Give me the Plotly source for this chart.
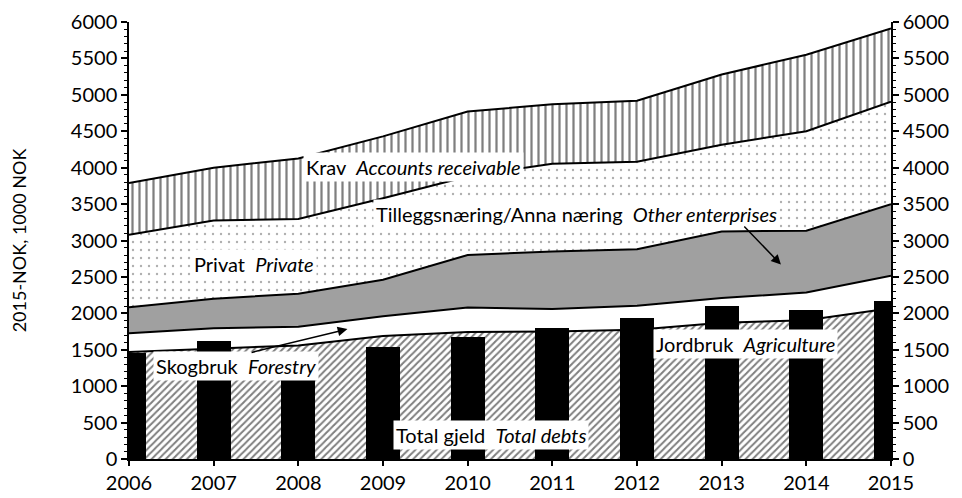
import plotly.graph_objects as go

# ---- data ----
years = [2006, 2007, 2008, 2009, 2010, 2011, 2012, 2013, 2014, 2015]
jordbruk = [1470, 1520, 1560, 1690, 1745, 1750, 1775, 1870, 1905, 2070]   # Agriculture
skogbruk = [255, 275, 255, 270, 335, 310, 330, 340, 380, 445]             # Forestry
tillegg = [360, 405, 455, 500, 720, 790, 775, 915, 850, 985]              # Other enterprises
privat = [995, 1075, 1025, 1120, 1080, 1205, 1200, 1190, 1365, 1405]      # Private
krav = [710, 725, 830, 850, 890, 815, 840, 965, 1050, 1005]               # Accounts receivable
total_gjeld = [1460, 1620, 1470, 1540, 1680, 1795, 1930, 2105, 2050, 2165]  # Total debts
y_ticks = [0, 500, 1000, 1500, 2000, 2500, 3000, 3500, 4000, 4500, 5000, 5500, 6000]

FONT = "Lato"
FS = 20
edge = dict(color="black", width=2)

fig = go.Figure()
fig.add_trace(go.Scatter(
    x=years, y=jordbruk, stackgroup="s", mode="lines", line=edge,
    fillcolor="white",
    fillpattern=dict(shape="/", fgcolor="black", bgcolor="white", size=5, solidity=0.4),
    name="Jordbruk"))
fig.add_trace(go.Scatter(
    x=years, y=skogbruk, stackgroup="s", mode="lines", line=edge,
    fillcolor="white", name="Skogbruk"))
fig.add_trace(go.Scatter(
    x=years, y=tillegg, stackgroup="s", mode="lines", line=edge,
    fillcolor="#a0a0a0", name="Tilleggsnæring"))
fig.add_trace(go.Scatter(
    x=years, y=privat, stackgroup="s", mode="lines", line=edge,
    fillcolor="white",
    fillpattern=dict(shape=".", fgcolor="#606060", bgcolor="white", size=8, solidity=0.07),
    name="Privat"))
fig.add_trace(go.Scatter(
    x=years, y=krav, stackgroup="s", mode="lines", line=edge,
    fillcolor="white",
    fillpattern=dict(shape="|", fgcolor="black", bgcolor="white", size=7, solidity=0.32),
    name="Krav"))
fig.add_trace(go.Bar(
    x=years, y=total_gjeld, yaxis="y2", width=0.4,
    marker=dict(color="black", line=dict(width=0)), name="Total gjeld"))

axis_common = dict(
    range=[0, 6000], tickvals=y_ticks, showgrid=False, zeroline=False,
    showline=True, linecolor="black", linewidth=1.5,
    ticks="outside", ticklen=6, tickwidth=1.5, tickcolor="black",
    minor=dict(dtick=100, ticks="outside", ticklen=3, tickcolor="black", tickwidth=1),
    tickfont=dict(family=FONT, size=FS, color="black"),
    ticklabeloverflow="allow",
)

lbl = dict(showarrow=False, bgcolor="white", borderpad=2,
           font=dict(family=FONT, size=FS, color="black"), xref="x", yref="y")
sp = "\u00a0 "

annotations = [
    dict(x=2009.36, y=4012, text="Krav" + sp + "<i>Accounts receivable</i>", **lbl),
    dict(x=2011.28, y=3360, text="Tilleggsnæring/Anna næring" + sp + "<i>Other enterprises</i>", **lbl),
    dict(x=2007.48, y=2680, text="Privat" + sp + "<i>Private</i>", **lbl),
    dict(x=2007.26, y=1282, text="Skogbruk" + sp + "<i>Forestry</i>", **lbl),
    dict(x=2010.28, y=330, text="Total gjeld" + sp + "<i>Total debts</i>", **lbl),
    dict(x=2013.28, y=1573, text="Jordbruk" + sp + "<i>Agriculture</i>", **lbl),
    dict(x=2008.58, y=1784, ax=2007.43, ay=1458, axref="x", ayref="y", xref="x", yref="y",
         text="", showarrow=True, arrowhead=2, arrowsize=1.3, arrowwidth=1.5, arrowcolor="black"),
    dict(x=2013.70, y=2670, ax=2013.25, ay=3213, axref="x", ayref="y", xref="x", yref="y",
         text="", showarrow=True, arrowhead=2, arrowsize=1.3, arrowwidth=1.5, arrowcolor="black"),
]

fig.update_layout(
    width=954, height=490,
    margin=dict(l=121, r=71, t=14, b=39, autoexpand=False),
    paper_bgcolor="white", plot_bgcolor="white",
    showlegend=False, bargap=0,
    font=dict(family=FONT, size=FS, color="black"),
    xaxis=dict(range=[2006, 2015], tickvals=years, showgrid=False, zeroline=False,
               showline=True, linecolor="black", linewidth=1.5,
               ticks="outside", ticklen=5, tickwidth=1.5, tickcolor="black",
               tickfont=dict(family=FONT, size=FS, color="black")),
    yaxis=dict(title=dict(text="2015-NOK, 1000 NOK", font=dict(family=FONT, size=18), standoff=40),
               **axis_common),
    yaxis2=dict(overlaying="y", side="right", **axis_common),
    annotations=annotations,
)

fig.write_html("out.html")
